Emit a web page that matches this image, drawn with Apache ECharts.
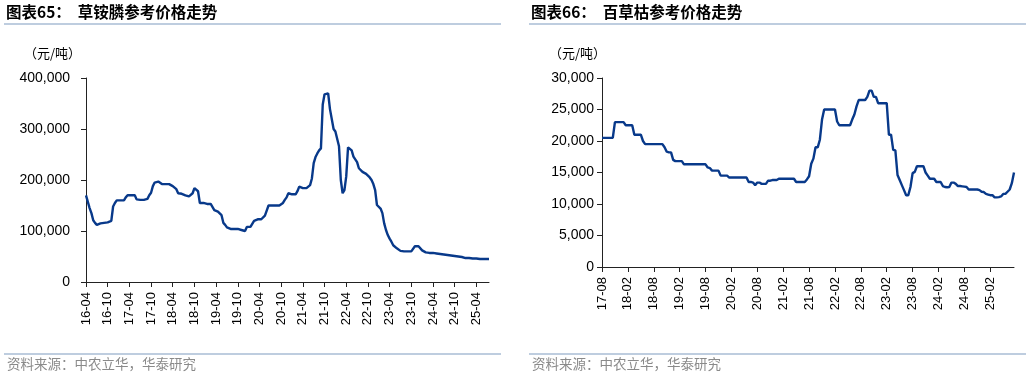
<!DOCTYPE html>
<html>
<head>
<meta charset="utf-8">
<script src="https://cdn.jsdelivr.net/npm/echarts@6/dist/echarts.min.js"></script>
<style>
  html, body { margin: 0; padding: 0; background: #fff; }
  #chart { width: 1030px; height: 378px; }
</style>
</head>
<body>
<div id="chart"></div>
<script>
// half-month steps: two points per month
function halfMonths(y0, m0, count) {
    const out = [];
    let y = y0, m = m0;
    for (let i = 0; i < count; i++) {
        out.push(String(y % 100).padStart(2, '0') + '-' + String(m).padStart(2, '0'));
        if (i % 2 === 1) {
            m++;
            if (m > 12) { m = 1; y++; }
        }
    }
    return out;
}

// 草铵膦, 2016-04 .. 2025-07 (元/吨)
const glufosinateDates = halfMonths(2016, 4, 224);
const glufosinatePrice = [
    170000, 168000, 145000, 135000, 121000, 116000, 112000, 112000, 115000, 116000,
    116000, 117000, 117000, 117000, 120000, 148000, 155000, 160000, 160000, 160000,
    160000, 160000, 166000, 170000, 170000, 170000, 170000, 170000, 162000, 161000,
    161000, 161000, 161000, 161000, 163000, 170000, 175000, 188000, 195000, 197000,
    197000, 194000, 192000, 192000, 192000, 192000, 192000, 191000, 188000, 185000,
    182000, 174000, 173000, 173000, 173000, 170000, 168000, 168000, 168000, 174000,
    184000, 182000, 178000, 155000, 155000, 155000, 154000, 153000, 153000, 153000,
    153000, 141000, 140000, 138000, 135000, 131000, 116000, 112000, 107000, 105000,
    104000, 104000, 104000, 104000, 104000, 103000, 102000, 101000, 100000, 108000,
    108000, 108000, 108000, 120000, 123000, 123000, 123000, 123000, 123000, 130000,
    140000, 150000, 150000, 150000, 150000, 150000, 150000, 150000, 150000, 155000,
    161000, 166000, 174000, 172000, 172000, 172000, 172000, 178000, 187000, 184000,
    184000, 184000, 184000, 184000, 190000, 203000, 233000, 245000, 252000, 258000,
    262000, 348000, 368000, 370000, 370000, 339000, 339000, 300000, 295000, 295000,
    266000, 200000, 174000, 180000, 207000, 264000, 264000, 258000, 246000, 246000,
    235000, 223000, 220000, 216000, 214000, 212000, 210000, 205000, 200000, 192000,
    180000, 151000, 150000, 144000, 135000, 115000, 102000, 92000, 85000, 79000,
    72000, 70000, 66000, 63000, 61000, 61000, 60000, 60000, 60000, 60000,
    60000, 60000, 70000, 70000, 70000, 70000, 62000, 60000, 58000, 58000,
    57000, 57000, 57000, 56000, 56000, 56000, 55000, 55000, 54000, 54000,
    53000, 52000, 52000, 51000, 51000, 50000, 50000, 50000, 49000, 48000,
    47000, 47000, 47000, 46000, 46000, 46000, 46000, 46000, 45000, 45000,
    45000, 45000, 45000, 45000
];

// 百草枯, 2017-08 .. 2025-07 (元/吨)
const paraquatDates = halfMonths(2017, 8, 192);
const paraquatPrice = [
    20500, 20500, 20500, 20500, 20500, 20500, 23000, 23000, 23000, 23000,
    23000, 22500, 22500, 22500, 22500, 21000, 21000, 21000, 21000, 20000,
    19500, 19500, 19500, 19500, 19500, 19500, 19500, 19500, 19500, 19000,
    18300, 18200, 18200, 17000, 16800, 16800, 16800, 16800, 16300, 16300,
    16300, 16300, 16300, 16300, 16300, 16300, 16300, 16300, 16300, 15800,
    15700, 15300, 15300, 15300, 15300, 14500, 14500, 14500, 14500, 14200,
    14200, 14200, 14200, 14200, 14200, 14200, 14200, 14200, 13500, 13500,
    13400, 13000, 13400, 13400, 13200, 13200, 13200, 13700, 13700, 13800,
    13800, 13800, 14000, 14000, 14000, 14000, 14000, 14000, 14000, 14000,
    13500, 13500, 13500, 13500, 13500, 13900, 14400, 16400, 17200, 19000,
    19000, 20200, 23400, 25000, 25000, 25000, 25000, 25000, 25000, 23100,
    22500, 22500, 22500, 22500, 22500, 22500, 23400, 24200, 25500, 26500,
    26500, 26500, 26500, 27000, 28000, 28000, 27000, 27000, 26000, 26000,
    26000, 26000, 26000, 21000, 21000, 18600, 18500, 14600, 13800, 13000,
    12200, 11400, 11400, 12700, 14900, 15100, 16000, 16000, 16000, 16000,
    15000, 14500, 14000, 14000, 14000, 13500, 13500, 13500, 12850, 12700,
    12650, 12700, 13400, 13400, 13200, 12850, 12850, 12800, 12750, 12700,
    12300, 12300, 12300, 12300, 12300, 12200, 11950, 11900, 11600, 11500,
    11400, 11400, 11050, 11050, 11100, 11200, 11600, 11600, 11950, 12300,
    13300, 15000
];

const titles = ['草铵膦参考价格走势', '百草枯参考价格走势'];
const sourceText = '资料来源：中农立华，华泰研究';

const chart = echarts.init(document.getElementById('chart'));

const fontLatin = 'Arial, "Liberation Sans", sans-serif';
const fontCjk = '"Noto Sans CJK SC", sans-serif';
const axisColor = '#222';
const sepColor = '#a9bdd4';
const lineColor = '#08398a';

function fmt(v) {
    return v.toLocaleString('en-US');
}

function xAxisFor(grid, dates) {
    return {
        type: 'category',
        gridIndex: grid,
        data: dates,
        boundaryGap: false,
        axisLine: { lineStyle: { color: axisColor, width: 1 } },
        axisTick: { interval: function (i) { return i % 12 === 0; }, length: 5, lineStyle: { color: axisColor } },
        axisLabel: {
            interval: function (i) { return i % 12 === 0; },
            rotate: 90,
            margin: 10,
            color: '#000',
            fontSize: 13,
            fontFamily: fontLatin
        },
        splitLine: { show: false }
    };
}

function yAxisFor(grid, max, step, margin) {
    return {
        type: 'value',
        gridIndex: grid,
        min: 0,
        max: max,
        interval: step,
        axisLine: { show: true, lineStyle: { color: axisColor, width: 1 } },
        axisTick: { show: true, length: 5, lineStyle: { color: axisColor } },
        axisLabel: { formatter: fmt, color: '#000', fontSize: 14, fontFamily: fontLatin, margin: margin },
        splitLine: { show: false }
    };
}

function header(x, lineX1, no, name) {
    return [
        {
            type: 'text', left: x, top: 4,
            style: {
                text: '图表' + no + '：  ' + name,
                fill: '#000', font: 'bold 15.5px ' + fontCjk
            }
        },
        {
            type: 'line', shape: { x1: x - 2, y1: 24, x2: lineX1, y2: 24 },
            style: { stroke: sepColor, lineWidth: 1.5 }
        },
        {
            type: 'text', left: x + 18, top: 47,
            style: { text: '（元/吨）', fill: '#000', font: '13px ' + fontCjk }
        },
        {
            type: 'line', shape: { x1: x - 2, y1: 354, x2: lineX1, y2: 354 },
            style: { stroke: sepColor, lineWidth: 1.5 }
        },
        {
            type: 'text', left: x + 1, top: 357,
            style: { text: sourceText, fill: '#8a8a8a', font: '13.5px ' + fontCjk }
        }
    ];
}

const option = {
    animation: false,
    backgroundColor: '#fff',
    grid: [
        { left: 86, top: 78, width: 403, bottom: 96 },
        { left: 602, top: 78, width: 412, bottom: 111 }
    ],
    xAxis: [
        xAxisFor(0, glufosinateDates),
        xAxisFor(1, paraquatDates)
    ],
    yAxis: [
        yAxisFor(0, 400000, 100000, 16),
        yAxisFor(1, 30000, 5000, 8)
    ],
    series: [
        {
            type: 'line', xAxisIndex: 0, yAxisIndex: 0,
            data: glufosinatePrice,
            showSymbol: false,
            lineStyle: { color: lineColor, width: 2.4 }
        },
        {
            type: 'line', xAxisIndex: 1, yAxisIndex: 1,
            data: paraquatPrice,
            showSymbol: false,
            lineStyle: { color: lineColor, width: 2.4 }
        }
    ],
    graphic: header(6, 501, '65', titles[0]).concat(header(531, 1026, '66', titles[1]))
};

chart.setOption(option);
</script>
</body>
</html>
